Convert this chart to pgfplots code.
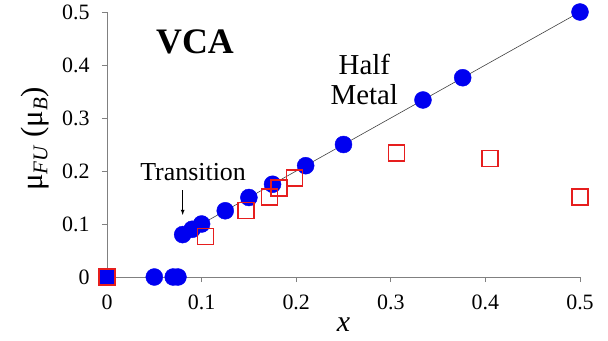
\documentclass[border=0pt]{standalone}
\usepackage{pgfplots}
\pgfplotsset{compat=1.18}
\usepackage{fontspec}
\setmainfont{Liberation Serif}
\definecolor{myblue}{RGB}{0,0,240}
\definecolor{myred}{RGB}{230,30,30}
\begin{document}
\begin{tikzpicture}
\begin{axis}[
  name=ax,
  scale only axis,
  width=473bp, height=265bp,
  xmin=0, xmax=0.5, ymin=0, ymax=0.5,
  axis lines*=left,
  axis line style={gray, line width=0.8pt},
  tick style={gray, line width=0.8pt},
  tick align=outside,
  major tick length=5bp,
  xtick={0,0.1,0.2,0.3,0.4,0.5},
  ytick={0,0.1,0.2,0.3,0.4,0.5},
  /pgf/number format/assume math mode=true,
  xticklabel={\pgfmathprintnumber{\tick}},
  yticklabel={\pgfmathprintnumber{\tick}},
  ticklabel style={font=\fontsize{22}{26}\selectfont},
  xticklabel style={yshift=-9bp},
  yticklabel style={xshift=-9bp},
  xlabel={\textit{x}},
  xlabel style={font=\fontsize{30}{34}\selectfont, yshift=-2bp},
  ylabel={μ\raisebox{-0.35ex}{\fontsize{21}{24}\selectfont\textit{FU}} (μ\raisebox{-0.35ex}{\fontsize{21}{24}\selectfont\textit{B}})},
  ylabel style={font=\fontsize{31}{34}\selectfont, at={(rel axis cs:-0.152,0.52)}, anchor=center},
  clip=false,
]
\addplot[black!75, line width=0.6pt, no marks] coordinates {(0.08,0.08) (0.5,0.5)};
\addplot[only marks, mark=*, mark size=8.5bp, color=myblue, mark options={fill=myblue, draw=myblue}] coordinates {
(0.05,0) (0.07,0) (0.075,0)
(0.08,0.08) (0.09,0.09) (0.1,0.1) (0.125,0.125) (0.15,0.15) (0.175,0.175)
(0.21,0.21) (0.25,0.25) (0.334,0.334) (0.376,0.376) (0.5,0.5)};
\addplot[only marks, mark=square*, mark size=8bp, mark options={fill=myblue, draw=myred, line width=1.5pt}] coordinates {(0,0)};
\addplot[only marks, mark=square, mark size=8bp, mark options={draw=myred, line width=1.5pt}] coordinates {
(0.104,0.076) (0.147,0.125) (0.172,0.151) (0.182,0.168) (0.198,0.187)
(0.306,0.234) (0.405,0.224) (0.5,0.151)};
\node[font=\fontsize{36}{40}\selectfont\bfseries] at (axis cs:0.093,0.443) {VCA};
\node[font=\fontsize{29}{33}\selectfont, align=center] at (axis cs:0.272,0.372) {Half\\[-3bp]Metal};
\node[font=\fontsize{26}{30}\selectfont] at (axis cs:0.091,0.198) {Transition};
\draw[-latex, line width=0.8pt] (axis cs:0.08,0.164) -- (axis cs:0.08,0.117);
\end{axis}
\pgfresetboundingbox
\path[use as bounding box] ([xshift=-107bp,yshift=-64bp]ax.south west) rectangle ([xshift=28bp,yshift=12bp]ax.north east);
\end{tikzpicture}
\end{document}
